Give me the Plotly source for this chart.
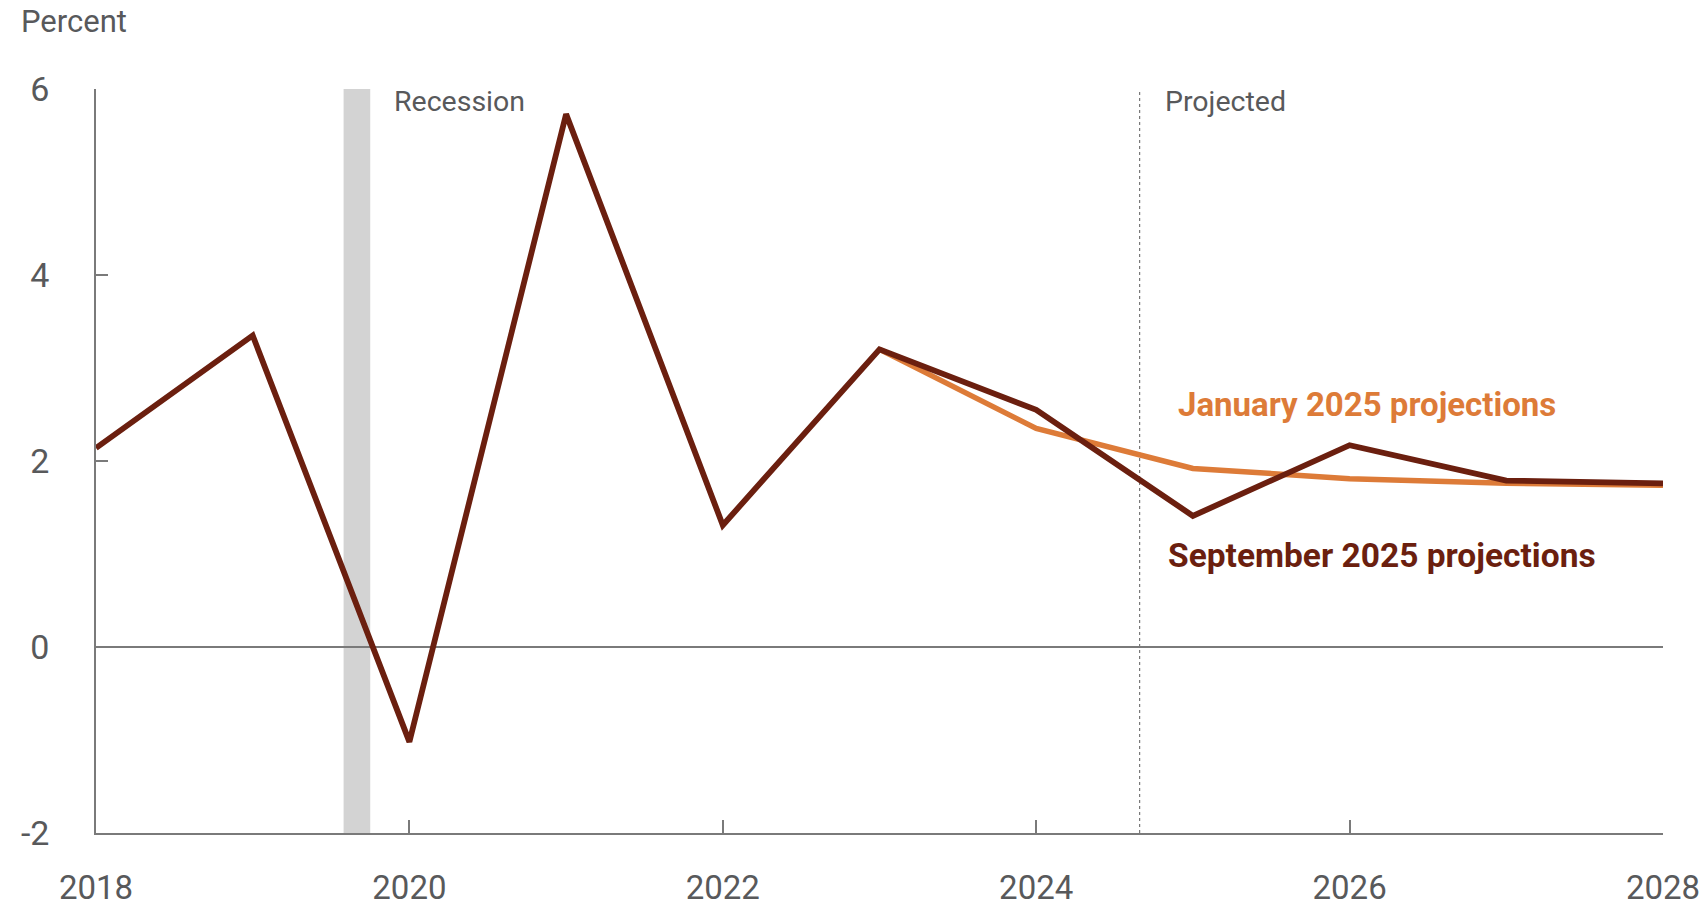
import plotly.graph_objects as go

years_sep = [2018, 2019, 2020, 2021, 2022, 2023, 2024, 2025, 2026, 2027, 2028]
sep_2025 = [2.14, 3.35, -1.02, 5.73, 1.31, 3.2, 2.55, 1.41, 2.17, 1.79, 1.76]
years_jan = [2023, 2024, 2025, 2026, 2027, 2028]
jan_2025 = [3.2, 2.35, 1.92, 1.81, 1.76, 1.74]

x_ticks = [2018, 2020, 2022, 2024, 2026, 2028]
y_ticks = [-2, 0, 2, 4, 6]
recession = [2019.58, 2019.75]
projected_start = 2024.66

ORANGE = "#dd7b38"
BROWN = "#6b1f0f"
GRAY_TEXT = "#58595b"
AXIS = "#7a7a7a"
FONT = "Roboto"

W, H = 1706, 908
ML, MT = 96, 89
MR = W - 1663.5
MB = H - 833
PW, PH = W - ML - MR, H - MT - MB

fig = go.Figure()
fig.add_trace(go.Scatter(x=years_jan, y=jan_2025, mode="lines",
                         line=dict(color=ORANGE, width=5.5), hoverinfo="skip"))
fig.add_trace(go.Scatter(x=years_sep, y=sep_2025, mode="lines",
                         line=dict(color=BROWN, width=5.8), hoverinfo="skip"))

fig.add_shape(type="rect", xref="x", yref="y", x0=recession[0], x1=recession[1],
              y0=-2, y1=6, fillcolor="#d3d3d3", line=dict(width=0), layer="below")
fig.add_shape(type="line", xref="x", yref="y", x0=projected_start, x1=projected_start,
              y0=-2, y1=6, line=dict(color="#777777", width=1.2, dash="dot"), layer="below")

fig.add_annotation(x=2019.89, y=5.87, xref="x", yref="y", text="Recession", showarrow=False,
                   xanchor="left", yanchor="middle", font=dict(family=FONT, size=28.5, color=GRAY_TEXT))
fig.add_annotation(x=2024.81, y=5.87, xref="x", yref="y", text="Projected", showarrow=False,
                   xanchor="left", yanchor="middle", font=dict(family=FONT, size=28.5, color=GRAY_TEXT))
fig.add_annotation(x=2024.89, y=2.61, xref="x", yref="y", text="<b>January 2025 projections</b>",
                   showarrow=False, xanchor="left", yanchor="middle",
                   font=dict(family=FONT, size=33, color=ORANGE))
fig.add_annotation(x=2024.83, y=0.98, xref="x", yref="y", text="<b>September 2025 projections</b>",
                   showarrow=False, xanchor="left", yanchor="middle",
                   font=dict(family=FONT, size=33.5, color=BROWN))
fig.add_annotation(x=-(ML - 19) / PW, y=1 + (MT - 22) / PH, xref="paper", yref="paper",
                   text="Percent", showarrow=False,
                   xanchor="left", yanchor="middle", font=dict(family=FONT, size=31, color=GRAY_TEXT))

fig.update_layout(
    width=W, height=H,
    margin=dict(l=ML, r=MR, t=MT, b=MB, autoexpand=False),
    paper_bgcolor="white", plot_bgcolor="white",
    showlegend=False,
    font=dict(family=FONT, color=GRAY_TEXT),
)

fig.update_xaxes(range=[2018, 2028], tickvals=x_ticks, ticktext=[str(v) for v in x_ticks],
                 automargin=False,
                 showgrid=False, zeroline=False, showline=True, linecolor=AXIS, linewidth=1.5,
                 ticks="inside", ticklen=13, tickcolor=AXIS, tickwidth=1.5,
                 tickfont=dict(family=FONT, size=33, color=GRAY_TEXT), ticklabelstandoff=25)
fig.update_yaxes(range=[-2, 6], tickvals=y_ticks, ticktext=[str(v) for v in y_ticks],
                 automargin=False,
                 showgrid=False, zeroline=True, zerolinecolor=AXIS, zerolinewidth=1.5,
                 showline=True, linecolor=AXIS, linewidth=1.5,
                 ticks="inside", ticklen=12, tickcolor=AXIS, tickwidth=1.5,
                 tickfont=dict(family=FONT, size=34, color=GRAY_TEXT), ticklabelstandoff=38)

fig.write_html(
    "out.html",
    config={"displayModeBar": False},
    post_script="document.body.style.margin='0';document.body.style.overflow='hidden';",
)
